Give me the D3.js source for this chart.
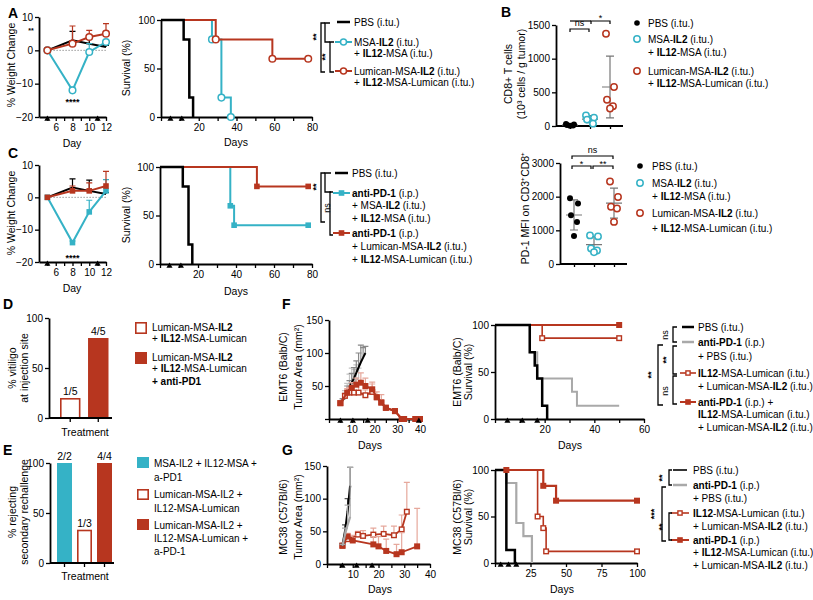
<!DOCTYPE html>
<html><head><meta charset="utf-8">
<script src="https://cdn.jsdelivr.net/npm/d3@7/dist/d3.min.js"></script>
<style>
body{margin:0;background:#fff;}
svg text{white-space:pre;}
</style></head><body>
<svg id="c" width="813" height="600"></svg>
<script>
// ---------------- DATA ----------------
// Panel A / C weight change
const weightDays = [5, 8, 10, 12];
const aWeightPBS = [0, 3, 2, 1];
const aWeightPBSErr = [0, 2.7, 1.5, 0.5];
const aWeightMSA = [0, -12, -0.5, 2.5];
const aWeightMSAErr = [0, 1, 2.5, 0.5];
const aWeightLum = [0, 2, 4, 5];
const aWeightLumErr = [0, 5.3, 2, 3];
const cWeightPBS = [0, 3, 2, 1];
const cWeightPBSErr = [0, 2.7, 3.3, 0.5];
const cWeightMSA = [0, -14, -4.5, 2];
const cWeightMSAErr = [0, 0.5, 3.6, 3.5];
const cWeightLum = [0, 2, 2, 3.5];
const cWeightLumErr = [0, 1.5, 2.5, 4.5];
// Panel A / C survival  [day, percent]
const aSurvPBS = [[0,100],[12,80],[15,20],[17,0]];
const aSurvMSA = [[0,100],[27,80],[32,20],[37,0]];
const aSurvMSAMarks = [[27,80],[32,20],[37,0]];
const aSurvLum = [[0,100],[29,80],[59,60],[78,60]];
const aSurvLumMarks = [[29,80],[59,60],[78,60]];
const cSurvPBS = [[0,100],[12,80],[15,20],[17,0]];
const cSurvMSA = [[0,100],[37,60],[39,40],[78,40]];
const cSurvMSAMarks = [[37,60],[39,40],[78,40]];
const cSurvLum = [[0,100],[51,80],[78,80]];
const cSurvLumMarks = [[51,80],[78,80]];
const doseDaysAC = [5, 11];
// Panel B
const bGroups = ["PBS", "MSA", "Lum"];
const bCD8PBS = [30, 22, 15, 8, 3];
const bCD8MSA = [155, 125, 95, 35];
const bCD8Lum = [1370, 580, 390, 295, 260];
const bPD1PBS = [1950, 1800, 1450, 1250, 830];
const bPD1MSA = [850, 820, 460, 400, 350];
const bPD1Lum = [2450, 1990, 1700, 1650, 1250];
// Panel D
const dCats = ["Lum", "LumPD1"];
const dValues = [20, 80];
const dLabels = ["1/5", "4/5"];
// Panel E
const eCats = ["MSA", "Lum", "LumPD1"];
const eValues = [100, 33.3, 100];
const eLabels = ["2/2", "1/3", "4/4"];
// Panel F tumor
const fPBSDays = [6,7,8,9,10,11,12,13,14,15,16];
const fPBSVals = [28,34,42,48,55,62,70,78,86,93,100];
const fPBSErr  = [3,5,8,10,14,16,18,22,26,15,10];
const fAntiDays = [6,7,8,9,10,11,12,13];
const fAntiVals = [27,35,42,48,52,55,60,62];
const fAntiErr  = [3,8,12,20,25,20,22,15];
const fIL12Days = [5,7,9,11,13,16,19,21,23,25,29,32,33,38,40];
const fIL12Vals = [24,35,40,40,40,36,41,33,25,17,12,0,0,0,0];
const fIL12Err  = [3,4,8,10,12,8,15,0,0,0,0,0,0,0,0];
const fComboDays = [5,8,10,12,14,16,19,21,23,25,29,32,33,38,40];
const fComboVals = [24,40,47,52,55,50,45,33,25,17,12,0,0,0,0];
const fComboErr  = [3,6,8,10,15,12,8,8,12,3,3,0,0,0,0];
const fDoseDays = [5, 10.5, 17, 39.5];
// Panel F survival
const fsPBS = [[0,100],[14,71],[16,57],[17,43],[19,14],[21,0]];
const fsAnti = [[0,100],[14,71],[17,43],[31,29],[33,14],[50,14]];
const fsIL12 = [[0,100],[19,86],[50,86]];
const fsIL12Marks = [[19,86],[50,86]];
const fsCombo = [[0,100],[50,100]];
const fsComboMarks = [[50,100]];
const fsDoseDays = [5, 11, 17];
// Panel G tumor
const gPBSDays = [6,7,8,9];
const gPBSVals = [28,50,80,120];
const gPBSErr  = [2,10,20,28];
const gAntiDays = [6,7,8,9];
const gAntiVals = [28,45,60,72];
const gAntiErr  = [2,10,30,76];
const gIL12Days = [6,8,12,14,18,22,26,29,31];
const gIL12Vals = [28,38,45,43,45,46,44,53,80];
const gIL12Err  = [2,5,5,8,10,12,14,22,45];
const gComboDays = [6,8,10,18,20,23,27,29,35];
const gComboVals = [28,42,36,30,27,20,15,18,27];
const gComboErr  = [2,5,8,12,15,18,15,30,58];
const gDoseDays = [6, 11.5, 17.5];
// Panel G survival
const gsPBS = [[0,100],[8,14],[14,0]];
const gsAnti = [[0,100],[8,86],[15,43],[20,29],[26,0]];
const gsIL12 = [[0,100],[30,50],[34,37.5],[36,12.5],[100,12.5]];
const gsIL12Marks = [[30,50],[34,37.5],[36,12.5],[100,12.5]];
const gsCombo = [[0,100],[34,83],[43,67],[100,67]];
const gsComboMarks = [[8,100],[34,83],[43,67],[100,67]];
const gsDoseDays = [4, 9.5, 15];

// ---------------- STYLE ----------------
const FONT = '"Liberation Sans", Arial, Helvetica, sans-serif';
const BLUE = "#35b2c6", RED = "#b7361f", LRED = "#e6a89c", GRAY = "#a9a9a9", DGRAY = "#777";
const svg = d3.select('#c').attr('font-family', FONT);
const fmt = d3.format('d');

function styleAxis(a) {
  a.select('.domain').attr('stroke', '#000').attr('stroke-width', 1.8);
  a.selectAll('.tick line').attr('stroke', '#000').attr('stroke-width', 1.3);
  a.selectAll('.tick text').attr('fill', '#000').attr('font-size', 10).attr('font-family', FONT);
}
function makePlot(o) {
  const x = d3.scaleLinear().domain(o.xd).range(o.xr);
  const y = d3.scaleLinear().domain(o.yd).range(o.yr);
  const g = svg.append('g');
  const ylab = o.ylab || o.yt;
  const ya = g.append('g').attr('transform', `translate(${o.xr[0]},0)`)
    .call(d3.axisLeft(y).tickValues(o.yt).tickSize(4).tickSizeOuter(0).tickPadding(2)
      .tickFormat(d => ylab.includes(d) ? fmt(d) : ''));
  styleAxis(ya);
  if (o.xt) {
    const xa = g.append('g').attr('transform', `translate(0,${o.yr[0]})`)
      .call(d3.axisBottom(x).tickValues(o.xt).tickSize(4).tickSizeOuter(0).tickPadding(3)
        .tickFormat(d => o.xlab.includes(d) ? fmt(d) : ''));
    styleAxis(xa);
  }
  return { x, y, g, o };
}
function text(x, y, s, opt = {}) {
  const t = svg.append('text').attr('x', x).attr('y', y).attr('font-size', opt.size || 10)
    .attr('text-anchor', opt.anchor || 'start').attr('fill', opt.fill || '#000')
    .attr('font-weight', opt.bold ? 'bold' : 'normal');
  if (opt.rot) t.attr('transform', `rotate(${opt.rot},${x},${y})`);
  s.split(/(<b>.*?<\/b>)/).filter(d => d.length).forEach(part => {
    if (part.startsWith('<b>')) t.append('tspan').attr('font-weight', 'bold').text(part.slice(3, -4));
    else t.append('tspan').text(part);
  });
  return t;
}
function vlabel(x, y, s, size) { return text(x, y, s, { rot: -90, anchor: 'middle', size: size || 10.5 }); }
function marker(g, type, cx, cy, color, r) {
  r = r || 3.3;
  if (type === 'ocircle') g.append('circle').attr('cx', cx).attr('cy', cy).attr('r', r).attr('fill', '#fff').attr('stroke', color).attr('stroke-width', 1.5);
  else if (type === 'dot') g.append('circle').attr('cx', cx).attr('cy', cy).attr('r', r).attr('fill', color);
  else if (type === 'square') g.append('rect').attr('x', cx - r).attr('y', cy - r).attr('width', 2 * r).attr('height', 2 * r).attr('fill', color);
  else if (type === 'osquare') g.append('rect').attr('x', cx - r + 0.7).attr('y', cy - r + 0.7).attr('width', 2 * r - 1.4).attr('height', 2 * r - 1.4).attr('fill', '#fff').attr('stroke', color).attr('stroke-width', 1.4);
}
function surv(p, pts, color, w) {
  p.g.append('path').datum(pts)
    .attr('d', d3.line().x(d => p.x(d[0])).y(d => p.y(d[1])).curve(d3.curveStepAfter))
    .attr('fill', 'none').attr('stroke', color).attr('stroke-width', w || 2);
}
function marks(p, pts, type, color, r) { pts.forEach(d => marker(p.g, type, p.x(d[0]), p.y(d[1]), color, r)); }
function series(p, days, vals, errs, color, ecolor, type, r, w, down) {
  days.forEach((d, i) => {
    if (!errs[i]) return;
    const X = p.x(d), Y0 = p.y(vals[i]), Y1 = p.y(vals[i] + errs[i]);
    let path = `M${X},${Y0}V${Y1}M${X - 3},${Y1}H${X + 3}`;
    if (down) { const Y2 = p.y(vals[i] - errs[i]); path += `M${X},${Y0}V${Y2}M${X - 3},${Y2}H${X + 3}`; }
    p.g.append('path').attr('d', path).attr('stroke', ecolor).attr('stroke-width', 1.2).attr('fill', 'none');
  });
  p.g.append('path').datum(days.map((d, i) => [d, vals[i]]))
    .attr('d', d3.line().x(d => p.x(d[0])).y(d => p.y(d[1])))
    .attr('fill', 'none').attr('stroke', color).attr('stroke-width', w || 2);
  if (type) days.forEach((d, i) => marker(p.g, type, p.x(d), p.y(vals[i]), color, r));
}
function doses(p, days) {
  const y0 = p.o.yr[0];
  days.forEach(d => p.g.append('path').attr('d', d3.symbol().type(d3.symbolTriangle).size(16)())
    .attr('transform', `translate(${p.x(d)},${y0 + 2})`).attr('fill', '#000'));
}
function bracket(x, y1, y2, tick) {
  svg.append('path').attr('d', `M${x + tick},${y1}H${x}V${y2}H${x + tick}`)
    .attr('fill', 'none').attr('stroke', '#000').attr('stroke-width', 1.3);
}
function hbracket(x1, x2, y, label, ly) {
  svg.append('path').attr('d', `M${x1},${y + 3}V${y}H${x2}V${y + 3}`).attr('fill', 'none').attr('stroke', '#000').attr('stroke-width', 1.2);
  text((x1 + x2) / 2, ly, label, { anchor: 'middle', size: 9 });
}
function star(x, y, s) { return text(x, y, s, { rot: -90, anchor: 'middle', size: 9, bold: true }); }
function legendLine(x0, x1, y, color, type, w) {
  svg.append('line').attr('x1', x0).attr('x2', x1).attr('y1', y).attr('y2', y).attr('stroke', color).attr('stroke-width', w || 2);
  if (type) marker(svg, type, (x0 + x1) / 2, y, color, type.includes('square') ? 2.8 : 3);
}

// ---------------- PANEL LETTERS ----------------
[['A', 8, 18], ['B', 501, 17], ['C', 8, 158], ['D', 3, 309], ['E', 3, 455], ['F', 282, 309], ['G', 282, 455]]
  .forEach(d => text(d[1], d[2], d[0], { size: 14, bold: true }));

// ---------------- PANEL A ----------------
function weightPanel(yr, pbs, pbsE, msa, msaE, lum, lumE, type, ylabY, starY) {
  const p = makePlot({ xd: [4, 12], xr: [39, 106], yd: [-20, 10], yr: yr, yt: [-20, -10, 0, 10],
    xt: [5, 6, 7, 8, 9, 10, 11, 12], xlab: [6, 8, 10, 12] });
  p.g.append('line').attr('x1', p.x(5)).attr('x2', p.x(12)).attr('y1', p.y(0)).attr('y2', p.y(0))
    .attr('stroke', '#999').attr('stroke-width', 1).attr('stroke-dasharray', '1.5,1.5');
  series(p, weightDays, pbs, pbsE, '#000', '#000', null, 0, 2);
  series(p, weightDays, msa, msaE, BLUE, BLUE, type === 'c' ? 'ocircle' : 'square', type === 'c' ? 3.3 : 2.8, 2);
  series(p, weightDays, lum, lumE, RED, RED, type === 'c' ? 'ocircle' : 'square', type === 'c' ? 3.3 : 2.8, 2);
  doses(p, doseDaysAC);
  text(p.x(8), starY, '****', { anchor: 'middle', size: 9, bold: true });
  vlabel(15, ylabY, '% Weight Change');
  text(72, yr[0] + 30, 'Day', { anchor: 'middle', size: 10.5 });
  return p;
}
weightPanel([117, 17], aWeightPBS, aWeightPBSErr, aWeightMSA, aWeightMSAErr, aWeightLum, aWeightLumErr, 'c', 65, 105);
text(31, 33, '**', { size: 7, anchor: 'middle', bold: true });

const pAs = makePlot({ xd: [0, 80], xr: [161, 312], yd: [0, 100], yr: [117, 20], yt: [0, 50, 100],
  xt: [0, 10, 20, 30, 40, 50, 60, 70, 80], xlab: [20, 40, 60, 80] });
surv(pAs, aSurvMSA, BLUE, 2);
surv(pAs, aSurvLum, RED, 2);
surv(pAs, aSurvPBS, '#000', 2.5);
marks(pAs, aSurvMSAMarks, 'ocircle', BLUE);
marks(pAs, aSurvLumMarks, 'ocircle', RED);
doses(pAs, doseDaysAC);
vlabel(130, 68, 'Survival (%)');
text(236, 146, 'Days', { anchor: 'middle', size: 10.5 });
legendLine(337, 350, 22, '#000', null, 2.5);
legendLine(335, 352, 42, BLUE, 'ocircle');
legendLine(335, 352, 71, RED, 'ocircle');
text(354, 25.5, 'PBS (i.tu.)');
text(354, 45.5, 'MSA-<b>IL2</b> (i.tu.)');
text(354, 57, '+ <b>IL12</b>-MSA (i.tu.)');
text(354, 74.5, 'Lumican-MSA-<b>IL2</b> (i.tu.)');
text(354, 86, '+ <b>IL12</b>-MSA-Lumican (i.tu.)');
bracket(321, 23, 72, 4);
bracket(325, 23, 42, 5);
bracket(330, 42, 72, 4);
star(319, 37, '**');
star(328, 57, '**');

// ---------------- PANEL B ----------------
const jitter = [-4, 4, -3, 3, 0];
function dotPlot(xr, yr, yd, yt, groups) {
  const y = d3.scaleLinear().domain(yd).range(yr);
  const g = svg.append('g');
  const ya = g.append('g').attr('transform', `translate(${xr[0]},0)`)
    .call(d3.axisLeft(y).tickValues(yt).tickSize(4).tickSizeOuter(0).tickPadding(2).tickFormat(fmt));
  styleAxis(ya);
  const x = d3.scalePoint().domain(bGroups).range([xr[0] + 14, xr[1] - 13]);
  const xa = g.append('g').attr('transform', `translate(0,${yr[0]})`)
    .call(d3.axisBottom(x).tickSize(3).tickSizeOuter(0).tickFormat(''));
  xa.select('.domain').attr('d', `M${xr[0]},0H${xr[1]}`);
  styleAxis(xa);
  groups.forEach((vals, gi) => {
    const cx = x(bGroups[gi]);
    const m = d3.mean(vals), sd = d3.deviation(vals);
    g.append('path').attr('d', `M${cx - 8},${y(m)}H${cx + 8}M${cx},${y(Math.max(0, m - sd))}V${y(m + sd)}M${cx - 4},${y(Math.max(0, m - sd))}H${cx + 4}M${cx - 4},${y(m + sd)}H${cx + 4}`)
      .attr('stroke', DGRAY).attr('stroke-width', 1.2).attr('fill', 'none');
    vals.forEach((v, i) => {
      const col = ['#000', BLUE, RED][gi];
      marker(g, gi === 0 ? 'dot' : 'ocircle', cx + jitter[i % jitter.length], y(v), col, gi === 0 ? 3 : 3.2);
    });
  });
  return { x, y };
}
dotPlot([556, 623], [126, 25], [0, 1500], [0, 500, 1000, 1500], [bCD8PBS, bCD8MSA, bCD8Lum]);
hbracket(570, 589, 29, 'ns', 26);
hbracket(591, 610, 21, '*', 21);
svg.append('line').attr('x1', 570).attr('x2', 591).attr('y1', 21).attr('y2', 21).attr('stroke', '#000').attr('stroke-width', 1.2);
vlabel(512, 74, 'CD8+ T cells');
vlabel(525, 74, '(10³ cells / g tumor)');
marker(svg, 'dot', 637, 23, '#000', 2.8);
marker(svg, 'ocircle', 637, 39, BLUE, 3.2);
marker(svg, 'ocircle', 637, 71, RED, 3.2);
text(648, 26.5, 'PBS (i.tu.)');
text(648, 42.5, 'MSA-<b>IL2</b> (i.tu.)');
text(648, 55.5, '+ <b>IL12</b>-MSA (i.tu.)');
text(648, 74.5, 'Lumican-MSA-<b>IL2</b> (i.tu.)');
text(648, 87, '+ <b>IL12</b>-MSA-Lumican (i.tu.)');

dotPlot([560, 627], [264, 163], [0, 3000], [0, 1000, 2000, 3000], [bPD1PBS, bPD1MSA, bPD1Lum]);
hbracket(572, 613, 156, 'ns', 153);
hbracket(572, 591, 166, '*', 167);
hbracket(593, 613, 166, '**', 167);
vlabel(529, 208, 'PD-1 MFI on CD3⁺CD8⁺');
marker(svg, 'dot', 640, 166, '#000', 2.8);
marker(svg, 'ocircle', 640, 183, BLUE, 3.2);
marker(svg, 'ocircle', 640, 213, RED, 3.2);
text(652, 169.5, 'PBS (i.tu.)');
text(652, 186.5, 'MSA-<b>IL2</b> (i.tu.)');
text(652, 199.5, '+ <b>IL12</b>-MSA (i.tu.)');
text(652, 216.5, 'Lumican-MSA-<b>IL2</b> (i.tu.)');
text(652, 231.5, '+ <b>IL12</b>-MSA-Lumican (i.tu.)');

// ---------------- PANEL C ----------------
weightPanel([262, 165], cWeightPBS, cWeightPBSErr, cWeightMSA, cWeightMSAErr, cWeightLum, cWeightLumErr, 's', 213, 261);
const pCs = makePlot({ xd: [0, 80], xr: [160, 312], yd: [0, 100], yr: [264, 167], yt: [0, 50, 100],
  xt: [0, 10, 20, 30, 40, 50, 60, 70, 80], xlab: [20, 40, 60, 80] });
surv(pCs, cSurvMSA, BLUE, 2);
surv(pCs, cSurvLum, RED, 2);
surv(pCs, cSurvPBS, '#000', 2.5);
marks(pCs, cSurvMSAMarks, 'square', BLUE, 2.8);
marks(pCs, cSurvLumMarks, 'square', RED, 2.8);
doses(pCs, doseDaysAC);
vlabel(130, 215, 'Survival (%)');
text(236, 295, 'Days', { anchor: 'middle', size: 10.5 });
legendLine(335, 348, 173, '#000', null, 2.5);
legendLine(333, 350, 193, BLUE, 'square');
legendLine(333, 350, 233, RED, 'square');
text(352, 176.5, 'PBS (i.tu.)');
text(352, 196.5, '<b>anti-PD-1</b> (i.p.)');
text(352, 209, '+ MSA-<b>IL2</b> (i.tu.)');
text(352, 221.5, '+ <b>IL12</b>-MSA (i.tu.)');
text(352, 236.5, '<b>anti-PD-1</b> (i.p.)');
text(352, 250, '+ Lumican-MSA-<b>IL2</b> (i.tu.)');
text(352, 262.5, '+ <b>IL12</b>-MSA-Lumican (i.tu.)');
bracket(321, 173, 222, 4);
bracket(325, 173, 192, 6);
bracket(330, 192, 235, 3);
star(319, 187, '**');
text(330, 208, 'ns', { rot: -90, anchor: 'middle', size: 9 });

// ---------------- PANEL D ----------------
function barPanel(cats, vals, labels, xr, axisX, yr, styles) {
  const y = d3.scaleLinear().domain([0, 100]).range(yr);
  const x = d3.scaleBand().domain(cats).range([xr[0], xr[1]]).paddingInner(xr[2]);
  const g = svg.append('g');
  cats.forEach((c, i) => {
    const s = styles[i];
    const h = y(0) - y(vals[i]);
    g.append('rect').attr('x', x(c) + (s.open ? 0.8 : 0)).attr('y', y(vals[i]) + (s.open ? 0.8 : 0))
      .attr('width', x.bandwidth() - (s.open ? 1.6 : 0)).attr('height', h - (s.open ? 0.8 : 0))
      .attr('fill', s.open ? '#fff' : s.color).attr('stroke', s.open ? s.color : 'none').attr('stroke-width', 1.6);
    text(x(c) + x.bandwidth() / 2, y(vals[i]) - 3, labels[i], { anchor: 'middle', size: 10.5 });
  });
  const ya = g.append('g').attr('transform', `translate(${axisX[0]},0)`)
    .call(d3.axisLeft(y).tickValues([0, 50, 100]).tickSize(4).tickSizeOuter(0).tickPadding(2));
  styleAxis(ya);
  const xa = g.append('g').attr('transform', `translate(0,${yr[0]})`)
    .call(d3.axisBottom(x).tickSize(4).tickSizeOuter(0).tickFormat(''));
  xa.select('.domain').attr('d', `M${axisX[0]},0H${axisX[1]}`);
  styleAxis(xa);
  return { x, y };
}
barPanel(dCats, dValues, dLabels, [60, 108.5, 0.27], [49, 112], [418, 318],
  [{ open: true, color: RED }, { open: false, color: RED }]);
vlabel(16, 368, '% vitiligo');
vlabel(28, 368, 'at injection site');
text(85, 436, 'Treatment', { anchor: 'middle', size: 10.5 });
svg.append('rect').attr('x', 135.8).attr('y', 322.8).attr('width', 10.4).attr('height', 10.4).attr('fill', '#fff').attr('stroke', RED).attr('stroke-width', 1.6);
svg.append('rect').attr('x', 135).attr('y', 352).attr('width', 12).attr('height', 12).attr('fill', RED);
text(152, 330.5, 'Lumican-MSA-<b>IL2</b>');
text(152, 342, '+ <b>IL12</b>-MSA-Lumican');
text(152, 360.5, 'Lumican-MSA-<b>IL2</b>');
text(152, 372, '+ <b>IL12</b>-MSA-Lumican');
text(152, 384.5, '<b>+ anti-PD1</b>');

// ---------------- PANEL E ----------------
barPanel(eCats, eValues, eLabels, [57, 112, 0.25], [50, 114], [563, 463],
  [{ open: false, color: BLUE }, { open: true, color: RED }, { open: false, color: RED }]);
vlabel(16, 512, '% rejecting');
vlabel(28, 512, 'secondary rechallenge');
text(85, 580, 'Treatment', { anchor: 'middle', size: 10.5 });
svg.append('rect').attr('x', 137).attr('y', 457).attr('width', 12).attr('height', 11).attr('fill', BLUE);
svg.append('rect').attr('x', 137.8).attr('y', 489.8).attr('width', 10.4).attr('height', 9.4).attr('fill', '#fff').attr('stroke', RED).attr('stroke-width', 1.6);
svg.append('rect').attr('x', 137).attr('y', 519).attr('width', 12).attr('height', 11).attr('fill', RED);
text(154, 466.5, 'MSA-IL2 + IL12-MSA +');
text(154, 480.5, 'a-PD1');
text(154, 497.5, 'Lumican-MSA-IL2 +');
text(154, 511.5, 'IL12-MSA-Lumican');
text(154, 528.5, 'Lumican-MSA-IL2 +');
text(154, 541.5, 'IL12-MSA-Lumican +');
text(154, 554.5, 'a-PD-1');

// ---------------- PANEL F ----------------
const pFt = makePlot({ xd: [0, 40], xr: [329, 420], yd: [0, 150], yr: [419, 320], yt: [0, 50, 100, 150], ylab: [50, 100, 150],
  xt: [0, 5, 10, 15, 20, 25, 30, 35, 40], xlab: [10, 20, 30, 40] });
series(pFt, fAntiDays, fAntiVals, fAntiErr, GRAY, '#c4c4c4', null, 0, 2);
series(pFt, fPBSDays, fPBSVals, fPBSErr, '#000', '#888', null, 0, 2);
series(pFt, fIL12Days, fIL12Vals, fIL12Err, RED, LRED, 'osquare', 3, 2);
series(pFt, fComboDays, fComboVals, fComboErr, RED, LRED, 'square', 3, 2);
doses(pFt, fDoseDays);
vlabel(287, 367, 'EMT6 (Balb/C)');
vlabel(302, 367, 'Tumor Area (mm²)');
text(370, 449, 'Days', { anchor: 'middle', size: 10.5 });

const pFs = makePlot({ xd: [0, 60], xr: [495, 644], yd: [0, 100], yr: [419, 325], yt: [0, 50, 100],
  xt: [0, 10, 20, 30, 40, 50, 60], xlab: [20, 40, 60] });
surv(pFs, fsAnti, GRAY, 2);
surv(pFs, fsIL12, RED, 1.6);
surv(pFs, fsCombo, RED, 2);
surv(pFs, fsPBS, '#000', 2.5);
marks(pFs, fsIL12Marks, 'osquare', RED, 3);
marks(pFs, fsComboMarks, 'square', RED, 3);
doses(pFs, fsDoseDays);
vlabel(461, 372, 'EMT6 (Balb/C)');
vlabel(472, 372, 'Survival (%)');
text(570, 449, 'Days', { anchor: 'middle', size: 10.5 });
legendLine(682, 694, 327, '#000', null, 2.5);
legendLine(682, 694, 342, GRAY, null, 2.5);
legendLine(680, 696, 373, RED, 'osquare', 1.6);
legendLine(680, 696, 402, RED, 'square');
text(698, 330.5, 'PBS (i.tu.)');
text(698, 345.5, '<b>anti-PD-1</b> (i.p.)');
text(698, 359.5, '+ PBS (i.tu.)');
text(698, 376.5, '<b>IL12</b>-MSA-Lumican (i.tu.)');
text(698, 389.5, '+ Lumican-MSA-<b>IL2</b> (i.tu.)');
text(698, 405.5, '<b>anti-PD-1</b> (i.p.) +');
text(698, 417.5, '<b>IL12</b>-MSA-Lumican (i.tu.)');
text(698, 430.5, '+ Lumican-MSA-<b>IL2</b> (i.tu.)');
bracket(673, 327, 342, 4);
bracket(673, 346, 374, 4);
bracket(673, 376, 404, 4);
bracket(658, 345, 405, 5);
text(668, 335, 'ns', { rot: -90, anchor: 'middle', size: 9 });
star(669, 360, '**');
text(668, 391, 'ns', { rot: -90, anchor: 'middle', size: 9 });
star(654, 375, '**');

// ---------------- PANEL G ----------------
const pGt = makePlot({ xd: [0, 40], xr: [327, 430], yd: [0, 150], yr: [564, 466], yt: [0, 50, 100, 150],
  xt: [0, 5, 10, 15, 20, 25, 30, 35, 40], xlab: [10, 20, 30, 40] });
series(pGt, gIL12Days, gIL12Vals, gIL12Err, RED, LRED, 'osquare', 3, 1.8);
series(pGt, gComboDays, gComboVals, gComboErr, RED, LRED, 'square', 3, 1.8);
series(pGt, gPBSDays, gPBSVals, gPBSErr, '#000', '#555', null, 0, 2.2);
series(pGt, gAntiDays, gAntiVals, gAntiErr, GRAY, '#aaa', null, 0, 2.2);
doses(pGt, gDoseDays);
vlabel(287, 517, 'MC38 (C57Bl/6)');
vlabel(302, 517, 'Tumor Area (mm²)');
text(380, 593, 'Days', { anchor: 'middle', size: 10.5 });

const pGs = makePlot({ xd: [0, 100], xr: [495, 637], yd: [0, 100], yr: [563, 470], yt: [0, 50, 100],
  xt: [0, 25, 50, 75, 100], xlab: [25, 50, 75, 100] });
surv(pGs, gsAnti, GRAY, 2.2);
surv(pGs, gsIL12, RED, 1.6);
surv(pGs, gsCombo, RED, 2.2);
surv(pGs, gsPBS, '#000', 2.5);
marks(pGs, gsIL12Marks, 'osquare', RED, 3);
marks(pGs, gsComboMarks, 'square', RED, 3);
doses(pGs, gsDoseDays);
vlabel(461, 517, 'MC38 (C57Bl/6)');
vlabel(472, 517, 'Survival (%)');
text(562, 593, 'Days', { anchor: 'middle', size: 10.5 });
legendLine(673, 687, 470, '#000', null, 1.6);
legendLine(673, 687, 485, GRAY, null, 2.5);
legendLine(671, 689, 513, RED, 'osquare', 1.6);
legendLine(671, 689, 540, RED, 'square');
text(693, 473.5, 'PBS (i.tu.)');
text(693, 488.5, '<b>anti-PD-1</b> (i.p.)');
text(693, 501.5, '+ PBS (i.tu.)');
text(693, 516.5, '<b>IL12</b>-MSA-Lumican (i.tu.)');
text(693, 529.5, '+ Lumican-MSA-<b>IL2</b> (i.tu.)');
text(693, 543.5, '<b>anti-PD-1</b> (i.p.)');
text(693, 555.5, '+ <b>IL12</b>-MSA-Lumican (i.tu.)');
text(693, 568.5, '+ Lumican-MSA-<b>IL2</b> (i.tu.)');
bracket(669, 470, 485, 3);
bracket(669, 513, 540, 3);
bracket(662, 487, 541, 4);
star(665, 478, '**');
star(665, 527, '**');
star(657, 514, '***');
</script>
</body></html>
